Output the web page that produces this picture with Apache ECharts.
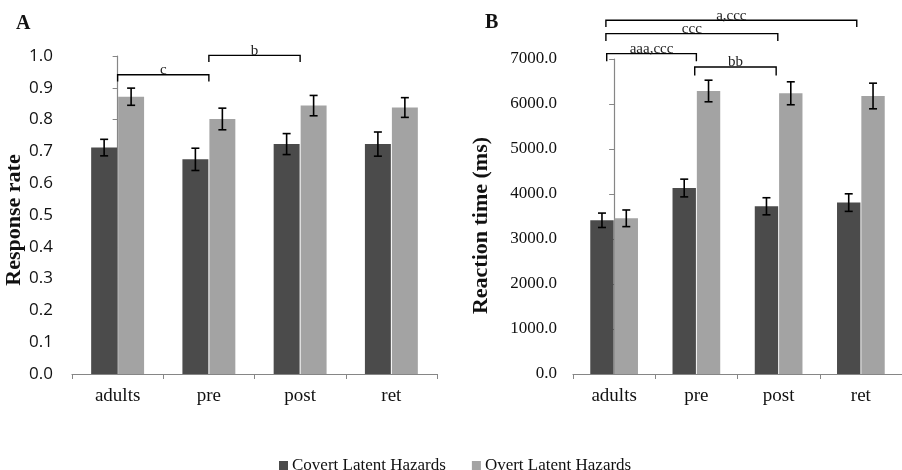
<!DOCTYPE html>
<html>
<head>
<meta charset="utf-8">
<script src="https://cdn.jsdelivr.net/npm/echarts@6/dist/echarts.min.js"></script>
<style>
html,body{margin:0;padding:0;background:#fff;}
#chart{width:902px;height:470px;}
</style>
</head>
<body>
<div id="chart"></div>
<script>
// ---- data ----
const categories = ['adults', 'pre', 'post', 'ret'];
const seriesNames = ['Covert Latent Hazards', 'Overt Latent Hazards'];

// Panel A: response rate
const rateCovert = [0.712, 0.675, 0.723, 0.723];
const rateCovertErr = [0.026, 0.035, 0.033, 0.038];
const rateOvert = [0.872, 0.802, 0.844, 0.838];
const rateOvertErr = [0.027, 0.034, 0.032, 0.031];

// Panel B: reaction time (ms)
const rtCovert = [3416, 4133, 3727, 3809];
const rtCovertErr = [160, 197, 190, 195];
const rtOvert = [3460, 6289, 6238, 6178];
const rtOvertErr = [185, 240, 255, 285];

// significance brackets (category positions, 0 = adults)
const rateBracketFrom = [0, 1];
const rateBracketTo = [1, 2];
const rateBracketTop = [0.941, 1.002];
const rateBracketEnd = [0.920, 0.981];
const rateBracketText = ['c', 'b'];

const rtBracketFrom = [-0.1, -0.1, -0.09, 0.98];
const rtBracketTo = [2.95, 1.99, 1.0, 1.97];
const rtBracketTop = [7860, 7564, 7120, 6822];
const rtBracketEnd = [7711, 7400, 6949, 6631];
const rtBracketText = ['a,ccc', 'ccc', 'aaa,ccc', 'bb'];

// ---- styling ----
const COVERT = '#4b4b4b';
const OVERT = '#a3a3a3';
const AXIS = '#868686';
const SERIF = '"Liberation Serif", "Times New Roman", serif';
const SANS = '"Open Sans", "Liberation Sans", sans-serif';
const CAT_GAP = 0.42, BAR_GAP = 0.04;

function errRender(side) {
  return function (params, api) {
    const idx = api.value(0), v = api.value(1), e = api.value(2);
    const catW = api.size([1, 0])[0];
    const bw = catW * (1 - CAT_GAP) / (2 + BAR_GAP);
    const off = side * bw * (1 + BAR_GAP) / 2;
    const top = api.coord([idx, v + e]);
    const bot = api.coord([idx, v - e]);
    const x = top[0] + off;
    const cap = 4;
    const st = { stroke: '#000', lineWidth: 1.6 };
    return {
      type: 'group',
      children: [
        { type: 'line', shape: { x1: x, y1: top[1], x2: x, y2: bot[1] }, style: st },
        { type: 'line', shape: { x1: x - cap, y1: top[1], x2: x + cap, y2: top[1] }, style: st },
        { type: 'line', shape: { x1: x - cap, y1: bot[1], x2: x + cap, y2: bot[1] }, style: st }
      ]
    };
  };
}

function bracketRender(texts) {
  return function (params, api) {
    const f = api.value(0), t = api.value(1), y = api.value(2), d = api.value(3);
    const a = api.coord([f, d]), b = api.coord([f, y]), c = api.coord([t, y]), e = api.coord([t, d]);
    return {
      type: 'group',
      children: [
        { type: 'polyline', shape: { points: [a, b, c, e] }, style: { stroke: '#000', lineWidth: 1.4, fill: null } },
        { type: 'text', x: (b[0] + c[0]) / 2, y: b[1] + 3,
          style: { text: texts[params.dataIndex], font: '15px ' + SERIF, fill: '#222', align: 'center', verticalAlign: 'bottom' } }
      ]
    };
  };
}

function errData(vals, errs) { return vals.map((v, i) => [i, v, errs[i]]); }
function bracketData(from, to, top, end) { return from.map((f, i) => [f, to[i], top[i], end[i]]); }

const catAxis = (gi, fontSize) => ({
  type: 'category', gridIndex: gi, data: categories,
  axisLine: { lineStyle: { color: AXIS, width: 1.2 } },
  axisTick: { show: true, length: 5, lineStyle: { color: AXIS } },
  axisLabel: { fontFamily: SERIF, fontSize: fontSize, color: '#111', margin: 13 }
});
const hiddenX = (gi) => ({ type: 'value', gridIndex: gi, min: -0.5, max: 3.5, show: false });

const option = {
  animation: false,
  backgroundColor: '#fff',
  title: [
    { text: 'A', left: 16, top: 14, padding: 0, textStyle: { fontFamily: SERIF, fontWeight: 'bold', fontSize: 20, color: '#111' } },
    { text: 'B', left: 485, top: 13, padding: 0, textStyle: { fontFamily: SERIF, fontWeight: 'bold', fontSize: 20, color: '#111' } }
  ],
  legend: {
    data: seriesNames,
    left: 274, top: 452,
    itemWidth: 9, itemHeight: 9, itemGap: 26,
    icon: 'rect',
    textStyle: { fontFamily: SERIF, fontSize: 17, color: '#111', padding: [0, 0, 0, -1] }
  },
  grid: [
    { left: 72, top: 56, width: 365, height: 318 },
    { left: 573, top: 59, width: 333, height: 315 }
  ],
  xAxis: [catAxis(0, 19), catAxis(1, 19), hiddenX(0), hiddenX(1)],
  yAxis: [
    {
      type: 'value', gridIndex: 0, min: 0, max: 1, interval: 0.1,
      name: 'Response rate', nameLocation: 'middle', nameGap: 43, nameRotate: 90,
      nameTextStyle: { fontFamily: SERIF, fontWeight: 'bold', fontSize: 22, color: '#111', padding: [0, 10, 0, 0] },
      axisLine: { show: true, lineStyle: { color: AXIS, width: 1.2 } },
      axisTick: { show: true, length: 5, lineStyle: { color: AXIS } },
      splitLine: { show: false },
      axisLabel: { fontFamily: SANS, fontSize: 17, color: '#111', margin: 19, formatter: v => v.toFixed(1) }
    },
    {
      type: 'value', gridIndex: 1, min: 0, max: 7000, interval: 1000,
      name: 'Reaction time (ms)', nameLocation: 'middle', nameGap: 81, nameRotate: 90,
      nameTextStyle: { fontFamily: SERIF, fontWeight: 'bold', fontSize: 22, color: '#111', padding: [0, 18, 0, 0] },
      axisLine: { show: true, lineStyle: { color: AXIS, width: 1.2 } },
      axisTick: { show: true, length: 5, lineStyle: { color: AXIS } },
      splitLine: { show: false },
      axisLabel: { fontFamily: SERIF, fontSize: 17, color: '#111', margin: 16, formatter: v => v.toFixed(1) }
    }
  ],
  series: [
    { name: seriesNames[0], type: 'bar', xAxisIndex: 0, yAxisIndex: 0, data: rateCovert,
      itemStyle: { color: COVERT }, barCategoryGap: (CAT_GAP * 100) + '%', barGap: (BAR_GAP * 100) + '%' },
    { name: seriesNames[1], type: 'bar', xAxisIndex: 0, yAxisIndex: 0, data: rateOvert,
      itemStyle: { color: OVERT }, barCategoryGap: (CAT_GAP * 100) + '%', barGap: (BAR_GAP * 100) + '%' },
    { name: seriesNames[0], type: 'bar', xAxisIndex: 1, yAxisIndex: 1, data: rtCovert,
      itemStyle: { color: COVERT }, barCategoryGap: (CAT_GAP * 100) + '%', barGap: (BAR_GAP * 100) + '%' },
    { name: seriesNames[1], type: 'bar', xAxisIndex: 1, yAxisIndex: 1, data: rtOvert,
      itemStyle: { color: OVERT }, barCategoryGap: (CAT_GAP * 100) + '%', barGap: (BAR_GAP * 100) + '%' },

    { type: 'custom', xAxisIndex: 0, yAxisIndex: 0, z: 5, renderItem: errRender(-1), data: errData(rateCovert, rateCovertErr), encode: { x: 0, y: 1 }, silent: true },
    { type: 'custom', xAxisIndex: 0, yAxisIndex: 0, z: 5, renderItem: errRender(1), data: errData(rateOvert, rateOvertErr), encode: { x: 0, y: 1 }, silent: true },
    { type: 'custom', xAxisIndex: 1, yAxisIndex: 1, z: 5, renderItem: errRender(-1), data: errData(rtCovert, rtCovertErr), encode: { x: 0, y: 1 }, silent: true },
    { type: 'custom', xAxisIndex: 1, yAxisIndex: 1, z: 5, renderItem: errRender(1), data: errData(rtOvert, rtOvertErr), encode: { x: 0, y: 1 }, silent: true },

    { type: 'custom', xAxisIndex: 2, yAxisIndex: 0, z: 6, clip: false, silent: true,
      renderItem: bracketRender(rateBracketText), encode: { x: [0, 1], y: [2, 3] },
      data: bracketData(rateBracketFrom, rateBracketTo, rateBracketTop, rateBracketEnd) },
    { type: 'custom', xAxisIndex: 3, yAxisIndex: 1, z: 6, clip: false, silent: true,
      renderItem: bracketRender(rtBracketText), encode: { x: [0, 1], y: [2, 3] },
      data: bracketData(rtBracketFrom, rtBracketTo, rtBracketTop, rtBracketEnd) }
  ]
};

const chart = echarts.init(document.getElementById('chart'), null, { renderer: 'canvas' });
chart.setOption(option);
</script>
</body>
</html>
